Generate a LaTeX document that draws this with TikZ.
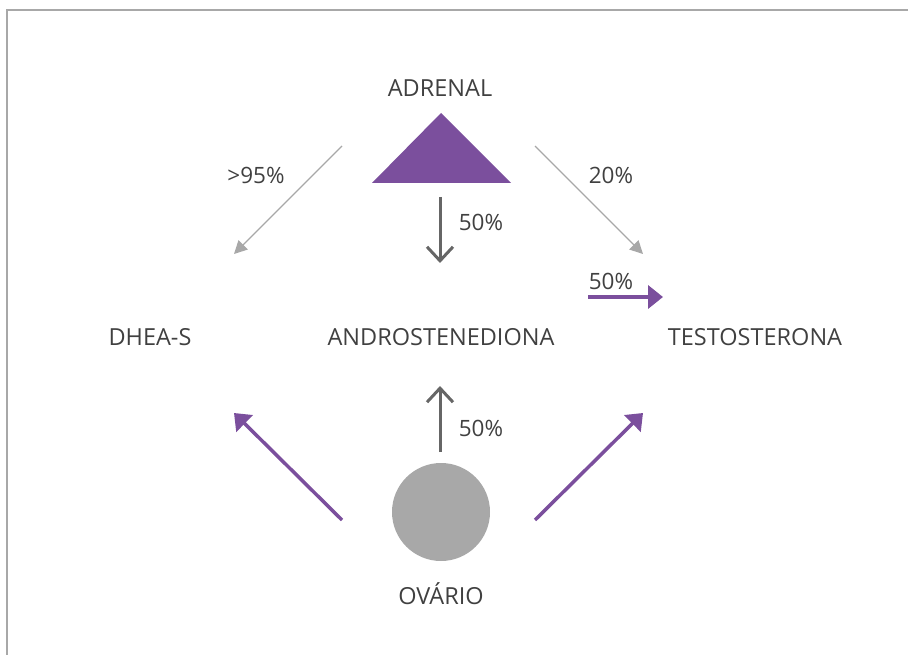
\documentclass[tikz,border=0pt]{standalone}
\usepackage{fontspec}
\setmainfont{Open Sans}
\usetikzlibrary{arrows.meta}
\definecolor{hormonpurple}{HTML}{7B4F9D}
\definecolor{hormongray}{HTML}{A8A8A8}
\definecolor{hormondark}{HTML}{666666}
\definecolor{hormontext}{HTML}{404040}
\tikzset{
  organ/.style={text=hormontext,font=\fontsize{23.5}{28}\selectfont},
  pct/.style={text=hormontext,font=\fontsize{22.5}{27}\selectfont},
  thinarrow/.style={hormongray,line width=1.2pt,-{Triangle[length=13pt,width=13pt]}},
  dualarrow/.style={hormondark,line width=3pt,-{Straight Barb[length=14pt,width=26pt,line width=3pt]}},
  purplearrow/.style={hormonpurple,line width=3.5pt,-{Triangle[length=15pt,width=23pt]}}
}
\begin{document}
\begin{tikzpicture}[x=1pt,y=-1pt]
\useasboundingbox (0,0) rectangle (908,655);
\draw[hormongray,line width=1.6pt] (908,10) -- (7,10) -- (7,655);
\node[organ] (adrenaltxt) at (440,88) {ADRENAL};
\fill[hormonpurple] (441,113) coordinate (adrenal) -- (511,183) -- (372,183) -- cycle;
\node[circle,fill=hormongray,minimum size=98pt,inner sep=0pt] (ovario) at (441,512) {};
\node[organ] (ovariotxt) at (441,594) {OVÁRIO};
\node[organ] (dhea) at (150,337) {DHEA-S};
\node[organ] (andro) at (441,337) {ANDROSTENEDIONA};
\node[organ] (testo) at (755,337) {TESTOSTERONA};
\coordinate (adrleft) at (342,146);
\coordinate (adrright) at (535,146);
\coordinate (dheatop) at (234,254);
\coordinate (testotop) at (643,254);
\coordinate (adrdown) at (440,197);
\coordinate (androtop) at (440,263);
\coordinate (androbot) at (440,386);
\coordinate (ovatop) at (440,452);
\coordinate (ovaleft) at (342,520);
\coordinate (ovaright) at (535,520);
\coordinate (dheabot) at (234,413);
\coordinate (testobot) at (643,413);
\coordinate (convstart) at (588,297);
\coordinate (convend) at (663,297);
\draw[thinarrow] (adrleft) -- (dheatop);
\draw[thinarrow] (adrright) -- (testotop);
\draw[dualarrow] (adrdown) -- (androtop);
\draw[dualarrow] (ovatop) -- (androbot);
\draw[purplearrow] (convstart) -- (convend);
\draw[purplearrow] (ovaleft) -- (dheabot);
\draw[purplearrow] (ovaright) -- (testobot);
\node[pct] (p95) at (256,175) {>95\%};
\node[pct] (p20) at (611,175) {20\%};
\node[pct] (p50a) at (481,222) {50\%};
\node[pct] (p50b) at (611,281) {50\%};
\node[pct] (p50c) at (481,428) {50\%};
\end{tikzpicture}
\end{document}
